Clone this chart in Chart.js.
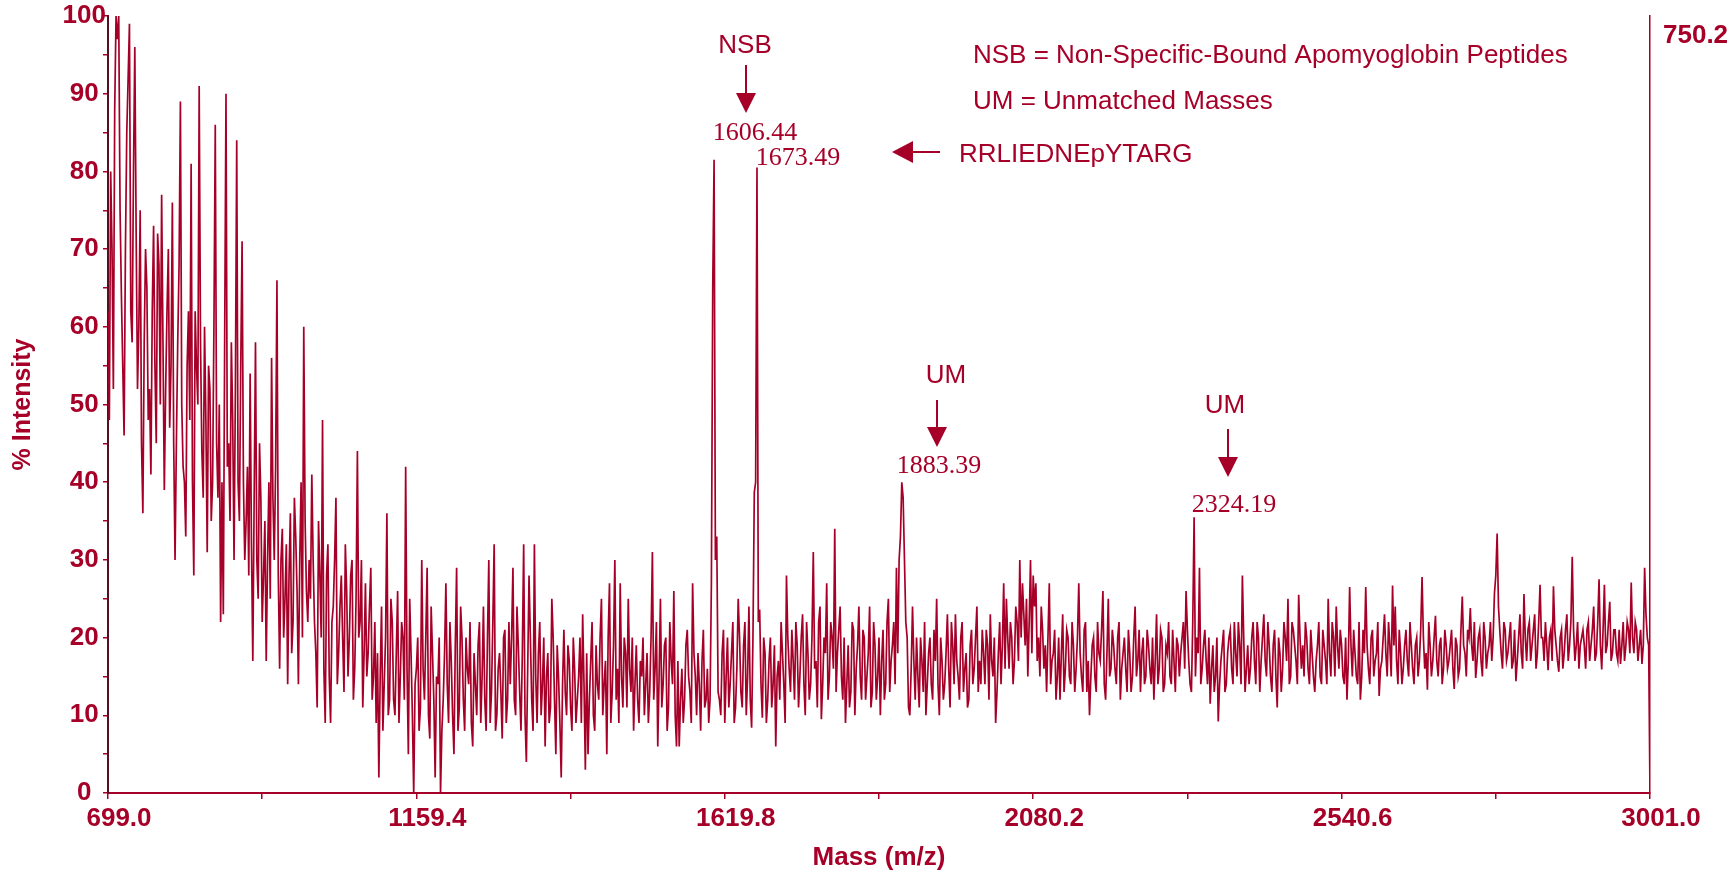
<!DOCTYPE html>
<html><head><meta charset="utf-8">
<script src="https://cdn.jsdelivr.net/npm/chart.js@4.4.1/dist/chart.umd.min.js"></script>
<style>html,body{margin:0;padding:0;background:#fff;}#wrap{width:1732px;height:870px;}</style>
</head><body><div id="wrap"><canvas id="c" width="1732" height="870"></canvas></div>
<script>
// ---- data ----
const massStart = 699.0;
const massEnd = 3001.0;
// samples every ~4 m/z, blocks of 100 m/z
const int0699 = [62, 80, 52, 100, 100, 64, 46, 85, 99, 58, 96, 52, 75, 36, 70, 48, 41, 73, 45, 68, 77, 39, 62, 47, 76];
const int0799 = [30, 58, 89, 42, 33, 62, 81, 28, 55, 91, 44, 60, 31, 52, 40, 86, 38, 22, 23, 90, 45, 58, 30, 84, 35];
const int0899 = [71, 30, 42, 54, 17, 58, 25, 38, 28, 17, 40, 56, 30, 66, 16, 34, 25, 14, 36, 22, 33, 14, 40, 60, 26];
const int0999 = [30, 41, 22, 11, 28, 48, 9, 32, 9, 24, 38, 18, 28, 13, 26, 20, 30, 16, 44, 22, 11, 27, 18, 29, 15];
const int1099 = [9, 2, 24, 14, 36, 12, 22, 10, 26, 15, 20, 42, 5, 18, 0, 16, 8, 30, 12, 29, 7, 18, 2, 14, 0];
const int1199 = [12, 27, 9, 17, 5, 29, 11, 20, 8, 16, 22, 6, 14, 19, 9, 24, 8, 30, 13, 32, 10, 18, 7, 21, 12];
const int1299 = [14, 29, 10, 19, 8, 32, 4, 28, 12, 32, 9, 22, 14, 6, 18, 11, 20, 5, 15, 2, 21, 10, 17, 8, 16];
const int1399 = [12, 20, 23, 3, 5, 17, 10, 19, 12, 25, 14, 5, 27, 13, 30, 16, 27, 11, 18, 25, 13, 8, 19, 9, 15];
const int1499 = [10, 18, 13, 31, 16, 6, 25, 14, 20, 11, 17, 26, 6, 6, 16, 12, 21, 13, 27, 15, 18, 8, 21, 12, 9];
const int1599 = [27, 81.5, 33, 12, 18, 9, 20, 14, 22, 11, 25, 13, 19, 10, 24, 8.4, 38.7, 80.5, 23.6, 9.7, 18, 12, 20, 14, 6];
const int1699 = [17, 22, 14, 28, 16, 21, 12, 19, 15, 23, 10, 18, 14, 31, 17, 22, 9.5, 20, 27, 15, 20, 34, 18, 24, 12];
const int1799 = [9, 19, 13, 21, 16, 24, 12, 20, 15, 24, 13, 19, 15, 10, 21, 14, 25, 17, 22, 29, 30, 40, 30, 20, 10];
const int1899 = [24, 12, 15, 20, 13, 10, 18, 14, 21, 25, 10, 17, 14, 23, 11, 19, 23, 15, 20, 13, 18, 12, 21, 16, 24];
const int1999 = [17, 21, 14, 19, 23, 15, 9, 18, 14, 27, 25, 16, 20, 17, 22, 30, 27, 19, 15, 30, 28, 27, 20, 24, 16];
const int2099 = [13, 27, 17, 21, 15, 12, 23, 16, 20, 14, 19, 16, 27, 15, 21, 13, 10, 19, 15, 22, 17, 26, 12, 25, 16];
const int2199 = [19, 14, 22, 16, 20, 13, 18, 15, 24, 17, 13, 20, 15, 19, 14, 12, 23, 16, 20, 14, 18, 15, 21, 13, 19];
const int2299 = [18, 22, 26, 17, 13, 35.5, 20, 29, 16, 21, 14, 11.5, 19, 15, 9.2, 17, 21, 14, 20, 16, 22, 15, 19, 28, 13];
const int2399 = [19, 16, 22, 14, 20, 17, 23, 15, 19, 13, 21, 11, 18, 16, 20, 25, 15, 21, 17, 25.5, 16, 15, 20, 14, 18];
const int2499 = [13, 19, 15, 21, 17, 25, 15, 20, 24, 16, 19, 14, 12, 26.5, 15, 18, 14, 12, 21, 26.5, 16, 20, 15, 18, 12.5];
const int2599 = [17, 23, 15, 19, 26.7, 24, 14, 18, 16, 21, 15, 19, 14, 20, 17, 27.8, 16, 13.3, 19, 17, 22.8, 15, 20, 16, 19];
const int2699 = [17, 21, 13.4, 19, 16, 25.3, 18, 21, 23.8, 17, 14.8, 20, 17, 22, 16, 19, 17, 25.7, 33.4, 20.9, 16, 21, 18, 22, 17];
const int2799 = [14.4, 20, 18, 25.6, 17, 22, 19, 23, 18, 26.8, 20, 22, 15.8, 21, 26.6, 19, 15.6, 21, 18, 23, 19, 30.4, 17, 22, 19];
const int2899 = [21, 16, 22, 19, 24, 18, 27.5, 15.9, 26.8, 19, 24.6, 18, 21, 17, 16.6, 22, 19, 21, 27.1, 18, 21, 19, 16.6, 29, 20, 0];
// in-between samples (~2 m/z after each sample above)
const mid0699 = [48, 70, 88, 97, 75, 55, 70, 92, 62, 80, 72, 60, 45, 58, 65, 52, 62, 55, 72, 50, 58, 52, 70, 55, 45];
const mid0799 = [45, 68, 50, 40, 55, 48, 40, 62, 50, 58, 38, 48, 55, 35, 60, 45, 50, 40, 58, 42, 35, 48, 52, 40, 55];
const mid0899 = [40, 35, 28, 32, 38, 30, 45, 22, 35, 30, 25, 38, 42, 28, 30, 20, 32, 28, 18, 38, 26, 30, 20, 35, 22];
const mid0999 = [25, 30, 18, 35, 20, 16, 28, 15, 22, 30, 14, 24, 20, 32, 15, 28, 12, 25, 20, 30, 18, 15, 24, 12, 22];
const mid1099 = [18, 15, 8, 20, 10, 25, 12, 18, 9, 22, 12, 16, 25, 10, 14, 20, 11, 16, 20, 10, 24, 12, 15, 20, 8];
const mid1199 = [18, 14, 22, 10, 19, 8, 24, 12, 20, 14, 9, 18, 10, 22, 15, 12, 20, 9, 22, 8, 16, 13, 20, 9, 22];
const mid1299 = [20, 12, 24, 13, 18, 10, 16, 20, 8, 15, 18, 10, 20, 15, 9, 25, 12, 19, 9, 14, 13, 19, 11, 20, 9];
const mid1399 = [15, 9, 14, 18, 12, 22, 8, 14, 20, 10, 17, 20, 9, 19, 12, 9, 15, 20, 11, 16, 20, 14, 12, 17, 20];
const mid1499 = [14, 9, 20, 12, 22, 15, 11, 19, 8, 22, 14, 10, 17, 12, 9, 19, 15, 9, 18, 10, 14, 17, 11, 16, 12];
const mid1599 = [65, 30, 13, 10, 21, 15, 11, 18, 9, 16, 20, 11, 22, 15, 12, 20, 40, 22, 14, 20, 9, 17, 11, 19, 15];
const mid1699 = [12, 18, 9, 20, 13, 17, 22, 11, 20, 14, 22, 12, 20, 16, 11, 24, 14, 18, 12, 22, 16, 13, 21, 15, 20];
const mid1799 = [14, 11, 22, 10, 19, 15, 21, 12, 18, 11, 22, 12, 20, 17, 12, 22, 13, 19, 14, 18, 33, 38, 22, 11, 16];
const mid1899 = [17, 20, 11, 17, 22, 14, 20, 12, 17, 14, 20, 12, 18, 16, 22, 14, 17, 12, 22, 16, 11, 19, 14, 20, 13];
const mid1999 = [14, 18, 21, 12, 17, 20, 13, 22, 19, 16, 20, 22, 14, 24, 17, 20, 23, 25, 22, 18, 24, 17, 15, 21, 19];
const mid2099 = [20, 14, 18, 12, 20, 18, 13, 21, 15, 22, 13, 20, 18, 13, 22, 17, 15, 20, 13, 18, 21, 14, 18, 15, 21];
const mid2199 = [16, 20, 12, 18, 16, 21, 13, 20, 15, 21, 18, 14, 21, 16, 20, 17, 14, 21, 13, 19, 22, 14, 17, 20, 15];
const mid2299 = [20, 16, 21, 14, 22, 15, 18, 14, 19, 17, 20, 16, 13, 20, 14, 19, 13, 18, 21, 14, 18, 22, 14, 20, 16];
const mid2399 = [14, 20, 17, 22, 13, 20, 17, 22, 15, 19, 15, 20, 13, 22, 17, 14, 22, 19, 14, 20, 19, 22, 16, 21, 15];
const mid2499 = [17, 22, 14, 19, 14, 18, 22, 15, 19, 21, 15, 20, 17, 19, 21, 15, 22, 15, 18, 19, 14, 21, 17, 22, 16];
const mid2599 = [20, 18, 22, 15, 19, 17, 21, 14, 19, 17, 22, 16, 19, 15, 21, 20, 18, 22, 15, 20, 17, 19, 14, 21, 16];
const mid2699 = [19, 16, 20, 15, 21, 19, 15, 20, 19, 22, 17, 21, 15, 20, 18, 22, 20, 28, 24, 18, 22, 17, 20, 16, 21];
const mid2799 = [17, 23, 16, 20, 21, 17, 21, 16, 22, 20, 17, 19, 20, 17, 21, 17, 20, 16, 21, 17, 22, 21, 19, 16, 20];
const mid2899 = [19, 21, 17, 21, 17, 22, 19, 21, 18, 22, 17, 21, 18, 21, 19, 17, 22, 18, 20, 22, 17, 21, 19, 23, 19];

const xTickValues = [699.0, 929.2, 1159.4, 1389.6, 1619.8, 1850.0, 2080.2, 2310.4, 2540.6, 2770.8, 3001.0];
const xTickLabels = ['699.0', '', '1159.4', '', '1619.8', '', '2080.2', '', '2540.6', '', '3001.0'];
const yTickValues = [0, 5, 10, 15, 20, 25, 30, 35, 40, 45, 50, 55, 60, 65, 70, 75, 80, 85, 90, 95, 100];
const yTickLabels = ['0', '', '10', '', '20', '', '30', '', '40', '', '50', '', '60', '', '70', '', '80', '', '90', '', '100'];
const xTitle = 'Mass (m/z)';
const yTitle = '% Intensity';
const rightAxisMax = '750.2';
const peakLabels = ['1606.44', '1673.49', '1883.39', '2324.19'];
const tagLabels = ['NSB', 'UM', 'UM'];
const sequenceLabel = 'RRLIEDNEpYTARG';
const legendLines = ['NSB = Non-Specific-Bound Apomyoglobin Peptides', 'UM = Unmatched Masses'];

// ---- build points ----
const mains = [].concat(int0699, int0799, int0899, int0999, int1099, int1199, int1299, int1399,
  int1499, int1599, int1699, int1799, int1899, int1999, int2099, int2199, int2299, int2399,
  int2499, int2599, int2699, int2799, int2899);
const mids = [].concat(mid0699, mid0799, mid0899, mid0999, mid1099, mid1199, mid1299, mid1399,
  mid1499, mid1599, mid1699, mid1799, mid1899, mid1999, mid2099, mid2199, mid2299, mid2399,
  mid2499, mid2599, mid2699, mid2799, mid2899);
const intensity = [];
mains.forEach((v, i) => { intensity.push(v); if (i < mids.length) intensity.push(mids[i]); });
const massStep = (massEnd - massStart) / (intensity.length - 1);
const points = intensity.map((v, i) => ({ x: massStart + i * massStep, y: v }));

const RED = 'rgb(166,0,40)';
const DARK = 'rgb(85,15,32)';
const SANS = '"Liberation Sans", Arial, sans-serif';
const SERIF = '"Liberation Serif", "Times New Roman", serif';

function arrowDown(c, x, y0, y1) {
  const hl = 20, hw = 10;
  c.beginPath(); c.moveTo(x, y0); c.lineTo(x, y1 - hl + 2); c.stroke();
  c.beginPath(); c.moveTo(x - hw, y1 - hl); c.lineTo(x + hw, y1 - hl); c.lineTo(x, y1); c.closePath(); c.fill();
}
function arrowLeft(c, x0, x1, y) {
  const hl = 21, hw = 11;
  c.beginPath(); c.moveTo(x1, y); c.lineTo(x0 + hl - 2, y); c.stroke();
  c.beginPath(); c.moveTo(x0 + hl, y - hw); c.lineTo(x0 + hl, y + hw); c.lineTo(x0, y); c.closePath(); c.fill();
}

const annotPlugin = {
  id: 'annot',
  afterDraw(chart) {
    const c = chart.ctx;
    c.save();
    c.fillStyle = RED; c.strokeStyle = RED; c.lineWidth = 2;
    c.textBaseline = 'alphabetic';
    c.font = '26px ' + SANS; c.textAlign = 'center';
    c.fillText(tagLabels[0], 745, 53);
    c.fillText(tagLabels[1], 946, 383);
    c.fillText(tagLabels[2], 1225, 413);
    arrowDown(c, 746, 65, 113);
    arrowDown(c, 937, 400, 447);
    arrowDown(c, 1228, 429, 477);
    c.font = '26px ' + SERIF; c.textAlign = 'center';
    c.fillText(peakLabels[0], 755, 140);
    c.fillText(peakLabels[1], 798, 165);
    c.fillText(peakLabels[2], 939, 473);
    c.fillText(peakLabels[3], 1234, 512);
    arrowLeft(c, 892, 940, 152);
    c.font = '26px ' + SANS; c.textAlign = 'left';
    c.fillText(sequenceLabel, 959, 162);
    c.fillText(legendLines[0], 973, 63);
    c.fillText(legendLines[1], 973, 109);
    c.font = 'bold 26px ' + SANS;
    c.fillText(rightAxisMax, 1663, 43);
    c.restore();
  }
};

new Chart(document.getElementById('c').getContext('2d'), {
  type: 'line',
  data: { datasets: [{ data: points, borderColor: RED, borderWidth: 1.7, pointRadius: 0, tension: 0, fill: false }] },
  options: {
    responsive: false, animation: false, devicePixelRatio: 1, parsing: false, normalized: true,
    layout: { padding: { top: 16, right: 82, bottom: 0, left: 0 } },
    plugins: { legend: { display: false }, tooltip: { enabled: false } },
    scales: {
      x: {
        type: 'linear', min: massStart, max: massEnd,
        afterBuildTicks: s => { s.ticks = xTickValues.map(v => ({ value: v })); },
        afterFit: s => { s.height = 77; },
        grid: { drawOnChartArea: false, drawTicks: true, tickLength: 6, color: RED, lineWidth: 1.5 },
        border: { display: true, color: RED, width: 2 },
        ticks: { autoSkip: false, maxRotation: 0, minRotation: 0, padding: 4, labelOffset: 11, color: RED,
          font: { family: SANS, size: 26, weight: 'bold' }, callback: (v, i) => xTickLabels[i] },
        title: { display: true, text: xTitle, color: RED, font: { family: SANS, size: 26, weight: 'bold', lineHeight: 0.92 }, padding: { top: 0, bottom: 0 } }
      },
      y: {
        type: 'linear', min: 0, max: 100,
        afterBuildTicks: s => { s.ticks = yTickValues.map(v => ({ value: v })); },
        afterFit: s => { s.width = 108; },
        grid: { drawOnChartArea: false, drawTicks: true, tickLength: 5, color: RED, lineWidth: 1.5 },
        border: { display: true, color: DARK, width: 2 },
        ticks: { autoSkip: false, crossAlign: 'center', padding: -3, color: RED,
          font: { family: SANS, size: 26, weight: 'bold' }, callback: (v, i) => yTickLabels[i] },
        title: { display: true, text: yTitle, color: RED, font: { family: SANS, size: 25, weight: 'bold', lineHeight: 0.92 }, padding: { top: 12, bottom: 0 } }
      },
      y2: {
        type: 'linear', position: 'right', min: 0, max: 100, display: true,
        afterFit: s => { s.width = 0; },
        grid: { display: false, drawTicks: false },
        ticks: { display: false },
        border: { display: true, color: RED, width: 1.5 }
      }
    }
  },
  plugins: [annotPlugin]
});
</script>
</body></html>
